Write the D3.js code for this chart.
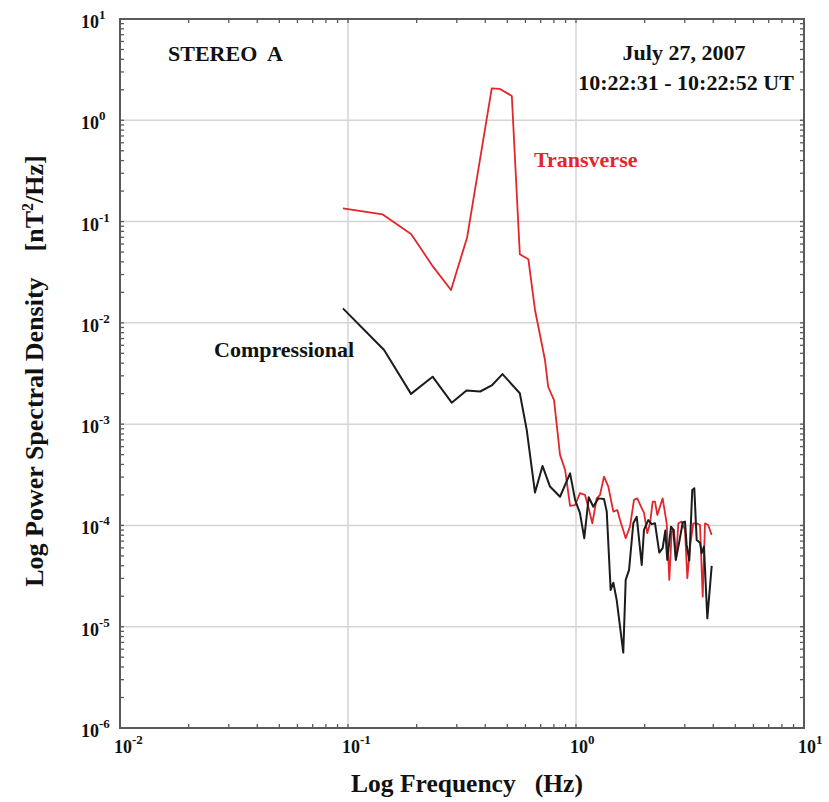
<!DOCTYPE html>
<html>
<head>
<meta charset="utf-8">
<script src="https://cdn.jsdelivr.net/npm/d3@7"></script>
<style>
  html, body { margin: 0; padding: 0; background: #fff; }
  svg { display: block; }
  text { font-family: "Liberation Serif", "Times New Roman", serif; font-weight: bold; }
</style>
</head>
<body>
<svg id="chart" width="829" height="802"></svg>
<script>
// Transverse power spectrum (frequency in Hz, PSD in nT^2/Hz)
const transFreq = [0.095, 0.142, 0.189, 0.236, 0.283, 0.333, 0.427, 0.464, 0.523, 0.567, 0.618, 0.661, 0.731, 0.755, 0.801, 0.851, 0.896, 0.942, 0.991, 1.041, 1.095, 1.132, 1.179, 1.233, 1.274, 1.327, 1.386, 1.458, 1.518, 1.560, 1.652, 1.725, 1.796, 1.857, 1.942, 1.987, 2.054, 2.112, 2.170, 2.221, 2.273, 2.399, 2.499, 2.566, 2.629, 2.691, 2.746, 2.811, 2.908, 3.006, 3.078, 3.162, 3.269, 3.38, 3.499, 3.595, 3.680, 3.80, 3.937];
const transPSD = [0.135, 0.1175, 0.0755, 0.0359, 0.0211, 0.0697, 2.07, 2.04, 1.74, 0.0475, 0.0425, 0.0134, 0.0043, 0.00234, 0.00173, 4.97e-4, 3.53e-4, 1.56e-4, 1.59e-4, 2.08e-4, 2.0e-4, 1.53e-4, 1.05e-4, 1.85e-4, 2.0e-4, 3.03e-4, 2.42e-4, 1.37e-4, 1.42e-4, 1.13e-4, 7.48e-5, 9.73e-5, 1.79e-4, 1.85e-4, 1.48e-4, 1.34e-4, 8.38e-5, 1.05e-4, 1.72e-4, 1.72e-4, 1.27e-4, 1.85e-4, 1.05e-4, 2.90e-5, 8.69e-5, 9.03e-5, 4.57e-5, 1.05e-4, 1.09e-4, 9.03e-5, 3.01e-5, 6.18e-5, 1.05e-4, 1.05e-4, 1.01e-4, 1.98e-5, 1.05e-4, 1.01e-4, 8.05e-5];

// Compressional power spectrum
const compFreq = [0.095, 0.144, 0.189, 0.235, 0.285, 0.331, 0.380, 0.427, 0.476, 0.567, 0.608, 0.661, 0.713, 0.769, 0.851, 0.942, 0.991, 1.041, 1.087, 1.137, 1.191, 1.253, 1.327, 1.364, 1.419, 1.458, 1.508, 1.612, 1.652, 1.709, 1.784, 1.846, 1.942, 1.987, 2.075, 2.148, 2.221, 2.319, 2.399, 2.464, 2.514, 2.611, 2.673, 2.739, 2.830, 2.938, 3.006, 3.057, 3.140, 3.236, 3.303, 3.383, 3.499, 3.557, 3.641, 3.767, 3.937];
const compPSD = [0.0139, 0.0054, 0.00199, 0.00294, 0.00163, 0.00215, 0.0021, 0.00241, 0.00312, 0.00202, 8.77e-4, 2.11e-4, 3.87e-4, 2.42e-4, 1.92e-4, 3.27e-4, 1.79e-4, 1.32e-4, 7.48e-5, 1.90e-4, 1.53e-4, 1.85e-4, 1.82e-4, 1.37e-4, 2.31e-5, 2.72e-5, 1.84e-5, 5.55e-6, 2.90e-5, 3.64e-5, 1.05e-4, 1.22e-4, 4.07e-5, 9.03e-5, 1.13e-4, 1.03e-4, 1.05e-4, 5.39e-5, 5.96e-5, 8.89e-5, 4.57e-5, 9.73e-5, 9.03e-5, 4.57e-5, 6.67e-5, 1.07e-4, 1.09e-4, 6.42e-5, 4.5e-5, 2.24e-4, 2.33e-4, 7.19e-5, 6.76e-5, 5.32e-5, 6.18e-5, 1.21e-5, 3.98e-5];

// Decade tick exponents
const xExponents = [-2, -1, 0, 1];
const yExponents = [1, 0, -1, -2, -3, -4, -5, -6];

const margin = { left: 120, top: 19, right: 25, bottom: 74 };
const W = 829, H = 802;
const svg = d3.select("#chart");

const x = d3.scaleLog().domain([0.01, 10]).range([margin.left, W - margin.right]);
const y = d3.scaleLog().domain([1e-6, 10]).range([H - margin.bottom, margin.top]);
const [x0, x1] = x.range();
const [y0, y1] = y.range(); // y0 bottom, y1 top

// Grid lines at inner decades
svg.append("g").selectAll("line.gx")
  .data(xExponents.slice(1, -1))
  .join("line")
  .attr("x1", d => x(Math.pow(10, d))).attr("x2", d => x(Math.pow(10, d)))
  .attr("y1", y1).attr("y2", y0)
  .attr("stroke", "#d4d4d4").attr("stroke-width", 1.5);
svg.append("g").selectAll("line.gy")
  .data(yExponents.slice(1, -1))
  .join("line")
  .attr("y1", d => y(Math.pow(10, d))).attr("y2", d => y(Math.pow(10, d)))
  .attr("x1", x0).attr("x2", x1)
  .attr("stroke", "#d4d4d4").attr("stroke-width", 1.5);

// Inward minor ticks on all four sides
const tickLen = 4;
const axisColor = "#5a5a5a";
const xt = x.ticks().filter(v => v > 0.01 * 1.0001 && v < 10 / 1.0001);
const yt = y.ticks().filter(v => v > 1e-6 * 1.0001 && v < 10 / 1.0001);
const tg = svg.append("g").attr("stroke", axisColor).attr("stroke-width", 1.3);
tg.selectAll("line.bt").data(xt).join("line")
  .attr("x1", d => x(d)).attr("x2", d => x(d)).attr("y1", y0).attr("y2", y0 - tickLen);
tg.selectAll("line.tt").data(xt).join("line")
  .attr("x1", d => x(d)).attr("x2", d => x(d)).attr("y1", y1).attr("y2", y1 + tickLen);
tg.selectAll("line.lt").data(yt).join("line")
  .attr("y1", d => y(d)).attr("y2", d => y(d)).attr("x1", x0).attr("x2", x0 + tickLen);
tg.selectAll("line.rt").data(yt).join("line")
  .attr("y1", d => y(d)).attr("y2", d => y(d)).attr("x1", x1).attr("x2", x1 - tickLen);

// Spectra
const line = d3.line().x(d => x(d[0])).y(d => y(d[1]));
svg.append("path")
  .datum(d3.zip(transFreq, transPSD))
  .attr("d", line).attr("fill", "none")
  .attr("stroke", "#e3262c").attr("stroke-width", 1.8).attr("stroke-linejoin", "round");
svg.append("path")
  .datum(d3.zip(compFreq, compPSD))
  .attr("d", line).attr("fill", "none")
  .attr("stroke", "#1c1c1c").attr("stroke-width", 2).attr("stroke-linejoin", "round");

// Frame
svg.append("rect")
  .attr("x", x0).attr("y", y1).attr("width", x1 - x0).attr("height", y0 - y1)
  .attr("fill", "none").attr("stroke", axisColor).attr("stroke-width", 2);

// Decade labels, 10 with superscript exponent
function powerLabel(g, exp) {
  g.append("tspan").text("10").attr("font-size", 18);
  g.append("tspan").text(String(exp)).attr("font-size", 13).attr("dy", -9);
}
xExponents.forEach(e => {
  const t = svg.append("text").attr("x", x(Math.pow(10, e)) - 6).attr("y", y0 + 25).attr("fill", "#111");
  powerLabel(t, e);
});
yExponents.forEach(e => {
  const t = svg.append("text").attr("x", 81).attr("y", y(Math.pow(10, e)) + 9).attr("fill", "#111");
  powerLabel(t, e);
});

// Axis titles
svg.append("text")
  .attr("x", 467).attr("y", 792)
  .attr("text-anchor", "middle").attr("font-size", 25.5).attr("fill", "#111")
  .attr("xml:space", "preserve")
  .text("Log Frequency   (Hz)");

const yt2 = svg.append("text")
  .attr("transform", "translate(43,371) rotate(-90)")
  .attr("text-anchor", "middle").attr("font-size", 26).attr("fill", "#111")
  .attr("xml:space", "preserve");
yt2.append("tspan").text("Log Power Spectral Density    [nT");
yt2.append("tspan").text("2").attr("font-size", 16).attr("dy", -10);
yt2.append("tspan").text("/Hz]").attr("dy", 10);

// Annotations
svg.append("text").attr("x", 168).attr("y", 61).attr("font-size", 22).attr("fill", "#111")
  .attr("xml:space", "preserve").text("STEREO  A");
svg.append("text").attr("x", 684).attr("y", 60).attr("text-anchor", "middle")
  .attr("font-size", 22).attr("fill", "#111").text("July 27, 2007");
svg.append("text").attr("x", 686).attr("y", 90).attr("text-anchor", "middle")
  .attr("font-size", 22).attr("fill", "#111").text("10:22:31 - 10:22:52 UT");
svg.append("text").attr("x", 534).attr("y", 167).attr("font-size", 22).attr("fill", "#e3262c")
  .text("Transverse");
svg.append("text").attr("x", 214).attr("y", 357).attr("font-size", 22).attr("fill", "#111")
  .text("Compressional");
</script>
</body>
</html>
